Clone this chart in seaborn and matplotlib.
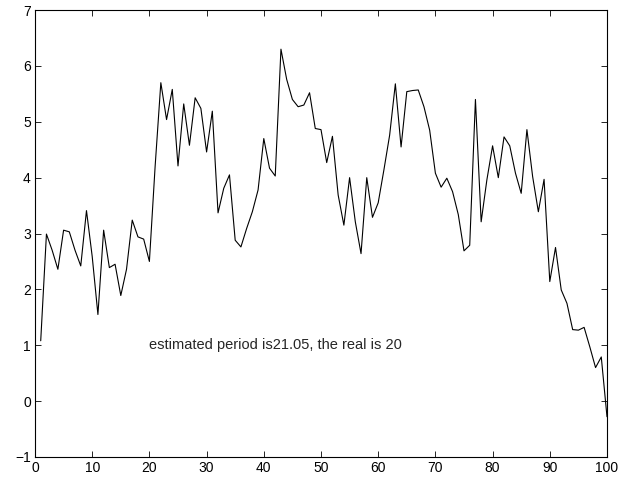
import matplotlib
matplotlib.use("Agg")
import matplotlib.pyplot as plt
import seaborn as sns
import pandas as pd

# sample index and signal values
sample = list(range(1, 101))
signal = [
    1.08, 2.99, 2.70, 2.36, 3.06, 3.03, 2.70, 2.42, 3.41, 2.59,
    1.55, 3.06, 2.39, 2.45, 1.89, 2.36, 3.24, 2.94, 2.90, 2.50,
    4.20, 5.70, 5.04, 5.58, 4.21, 5.32, 4.58, 5.43, 5.24, 4.46,
    5.19, 3.37, 3.81, 4.05, 2.88, 2.76, 3.09, 3.39, 3.78, 4.70,
    4.17, 4.03, 6.30, 5.76, 5.40, 5.27, 5.30, 5.52, 4.88, 4.86,
    4.27, 4.74, 3.69, 3.15, 4.00, 3.21, 2.64, 4.00, 3.29, 3.55,
    4.14, 4.76, 5.68, 4.55, 5.54, 5.56, 5.57, 5.27, 4.85, 4.08,
    3.83, 3.99, 3.75, 3.34, 2.69, 2.79, 5.40, 3.21, 3.96, 4.57,
    4.00, 4.73, 4.57, 4.08, 3.72, 4.86, 4.02, 3.39, 3.97, 2.14,
    2.75, 1.99, 1.75, 1.28, 1.27, 1.32, 0.97, 0.60, 0.79, -0.28,
]
annotation = "estimated period is21.05, the real is 20"
x_ticks = list(range(0, 101, 10))
y_ticks = list(range(-1, 8))

df = pd.DataFrame({"n": sample, "value": signal})

sns.set_style("ticks")
plt.rcParams["font.family"] = ["Liberation Sans", "DejaVu Sans"]

fig = plt.figure(figsize=(6.34, 4.8), dpi=100)
ax = fig.add_axes([0.0552, 0.048, 0.9022, 0.931])

sns.lineplot(data=df, x="n", y="value", color="black", linewidth=0.8, ax=ax)

ax.set_xlim(0, 100)
ax.set_ylim(-1, 7)
ax.set_xticks(x_ticks)
ax.set_yticks(y_ticks)
ax.set_yticklabels(["\u22121"] + [str(t) for t in y_ticks[1:]])
ax.set_xlabel("")
ax.set_ylabel("")
ax.tick_params(direction="in", top=True, right=True, length=4, width=0.6,
               labelsize=10, pad=3, colors="black")
for side in ax.spines.values():
    side.set_visible(True)
    side.set_linewidth(0.8)
    side.set_color("black")

ax.text(20, 1, annotation, fontsize=10.5, va="center", ha="left")

fig.savefig("out.png", dpi=100)
